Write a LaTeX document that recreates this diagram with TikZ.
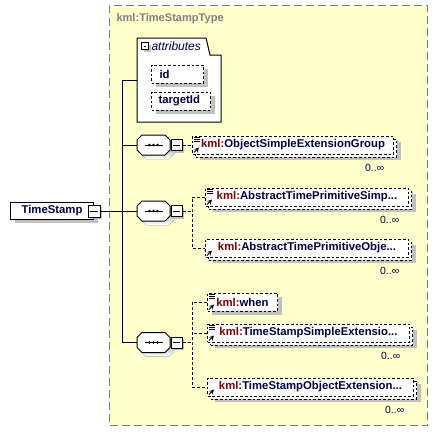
\documentclass[tikz,border=0pt]{standalone}
\usepackage{fontspec}
\setmainfont{Liberation Sans}
\usetikzlibrary{shadows}

\definecolor{typefill}{RGB}{255,255,204}
\definecolor{typeline}{RGB}{128,128,128}
\definecolor{shade}{RGB}{192,192,192}
\definecolor{prefix}{RGB}{128,0,0}
\definecolor{ink}{RGB}{0,0,64}

\newcommand\kml[1]{\textcolor{prefix}{kml:}#1}
\newcommand\grouplines[1]{%
  \draw[line width=0.5pt] ([shift={(2,2)}]#1.north west) -- ++(6,0)
    ([shift={(2,3.7)}]#1.north west) -- ++(6,0)
    ([shift={(2,5.4)}]#1.north west) -- ++(6,0);}
\newcommand\refarrow[1]{%
  \draw[-stealth, line width=0.6pt] ([shift={(2,-2)}]#1.south west) -- ++(5,-5);}
\newcommand\seqmark[1]{%
  \begin{scope}[shift={(#1.center)}]
    \fill[shade] (-7.5,-6) -- (15.5,-6) -- (20.5,-1) -- (20.5,9) -- (15.5,14)
      -- (-7.5,14) -- (-12.5,9) -- (-12.5,-1) -- cycle;
    \draw[fill=white] (-11.5,-10) -- (11.5,-10) -- (16.5,-5) -- (16.5,5) -- (11.5,10)
      -- (-11.5,10) -- (-16.5,5) -- (-16.5,-5) -- cycle;
    \draw (-9,0) -- (9,0);
    \fill (-4,0) circle (1.4) (0,0) circle (1.4) (4,0) circle (1.4);
  \end{scope}}

\begin{document}
\begin{tikzpicture}[x=0.75pt, y=-0.75pt, line width=0.75pt,
    typebox/.style={draw=typeline, dash pattern=on 6pt off 3pt, fill=typefill,
      minimum width=238.5pt, minimum height=315pt, inner sep=0pt},
    title/.style={text=typeline, font=\bfseries\fontsize{8.3}{10}\selectfont, inner sep=0pt},
    topbox/.style={draw, fill=white, anchor=west, minimum width=62.25pt, minimum height=12.75pt,
      inner sep=0pt, text=ink, font=\bfseries\fontsize{8.5}{10}\selectfont,
      drop shadow={shadow xshift=3pt, shadow yshift=-3pt, fill=shade, opacity=1}},
    minus/.style={draw, fill=white, minimum size=8.25pt, inner sep=0pt,
      drop shadow={shadow xshift=1.5pt, shadow yshift=-1.5pt, fill=shade, opacity=1},
      path picture={\draw ([xshift=1.8pt]path picture bounding box.west)
        -- ([xshift=-1.8pt]path picture bounding box.east);}},
    seq/.style={rectangle, minimum width=24.75pt, minimum height=15pt, inner sep=0pt},
    elem/.style={draw, dash pattern=on 2pt off 1.5pt, fill=white, anchor=west,
      minimum height=13.5pt, inner sep=0pt, text=ink, font=\bfseries\fontsize{8.5}{10}\selectfont,
      drop shadow={shadow xshift=3pt, shadow yshift=-3pt, fill=shade, opacity=1}},
    many/.style={drop shadow={shadow xshift=5.25pt, shadow yshift=-4.5pt, fill=shade, opacity=1},
      copy shadow={shadow xshift=2.25pt, shadow yshift=-2.25pt, draw=black,
        dash pattern=on 2pt off 1.5pt, fill=white, opacity=1},
      label={[mult, anchor=north east, xshift=-7pt, yshift=-7pt]south east:0..∞}},
    mult/.style={text=ink, font=\fontsize{7.8}{9}\selectfont, inner sep=0pt},
    attr/.style={draw, dash pattern=on 2pt off 1.5pt, fill=white, anchor=west, align=left,
      minimum height=13.5pt, inner ysep=0pt, text=ink, font=\bfseries\fontsize{8.5}{10}\selectfont,
      drop shadow={shadow xshift=3pt, shadow yshift=-3pt, fill=shade, opacity=1}},
    link/.style={dash pattern=on 2.25pt off 1.5pt}]
    \useasboundingbox (0,0) rectangle (439,432);

    \node[typebox, anchor=north west] (type) at (109,5) {};
    \node[title, anchor=west] (ttl) at (116,19) {kml:TimeStampType};

    % attributes
    \draw[fill=white] (137,38) -- (206,38) -- (210,55) -- (221,55) -- (221,122) -- (137,122) -- cycle;
    \coordinate (attrs) at (137,80);
    \node[minus, minimum size=5.25pt] (am) at (145,46) {};
    \node[anchor=west, inner sep=0pt, text=ink, font=\itshape\fontsize{9}{10}\selectfont] (al) at (151,46.5) {attributes};
    \node[attr, text width=27pt, inner xsep=6pt] (id) at (151,74) {id};
    \node[attr, text width=33.75pt, inner xsep=5.25pt] (tid) at (151,101) {targetId};

    \node[topbox] (ts) at (10,210.5) {TimeStamp};
    \node[minus, minimum size=9pt] (tsm) at (94,211) {};

    \node[seq] (s1) at (153.5,145) {};
    \node[seq] (s2) at (153.5,211) {};
    \node[seq] (s3) at (153.5,342.5) {};
    \seqmark{s1}
    \seqmark{s2}
    \seqmark{s3}
    \node[minus] (m1) at (176.5,145) {};
    \node[minus] (m2) at (176.5,211) {};
    \node[minus] (m3) at (176.5,342.5) {};

    \node[elem, many, minimum width=150.75pt] (osg) at (192,145) {\kml{ObjectSimpleExtensionGroup}};
    \node[elem, many, minimum width=152.25pt] (atps) at (205,197) {\kml{AbstractTimePrimitiveSimp...}};
    \node[elem, many, minimum width=152.25pt] (atpo) at (205,248) {\kml{AbstractTimePrimitiveObje...}};
    \node[elem, minimum width=52.5pt] (when) at (207,302) {\kml{when}};
    \node[elem, many, minimum width=151.5pt] (tsse) at (207,333) {\kml{TimeStampSimpleExtensio...}};
    \node[elem, many, minimum width=154.5pt] (tsoe) at (207,387) {\kml{TimeStampObjectExtension...}};
    \grouplines{osg}
    \grouplines{atps}
    \grouplines{when}
    \grouplines{tsse}
    \refarrow{osg}
    \refarrow{atps}
    \refarrow{atpo}
    \refarrow{when}
    \refarrow{tsse}
    \refarrow{tsoe}

    \coordinate (trunk) at (122,211);
    \coordinate (j2) at (192,211);
    \coordinate (j3) at (192,342.5);

    \draw (attrs) -| (trunk |- s3) -- (s3);
    \draw (s1) -- (s1 -| trunk);
    \draw (tsm) -- (s2);

    \draw[link] (m1) -- (osg);
    \draw[link] (m2) -- (j2);
    \draw[link] (atps) -| (j2) |- (atpo);
    \draw[link] (m3) -- (j3);
    \draw[link] (when) -| (j3) |- (tsoe);
    \draw[link] (tsse) -- (tsse -| j3);
\end{tikzpicture}
\end{document}
